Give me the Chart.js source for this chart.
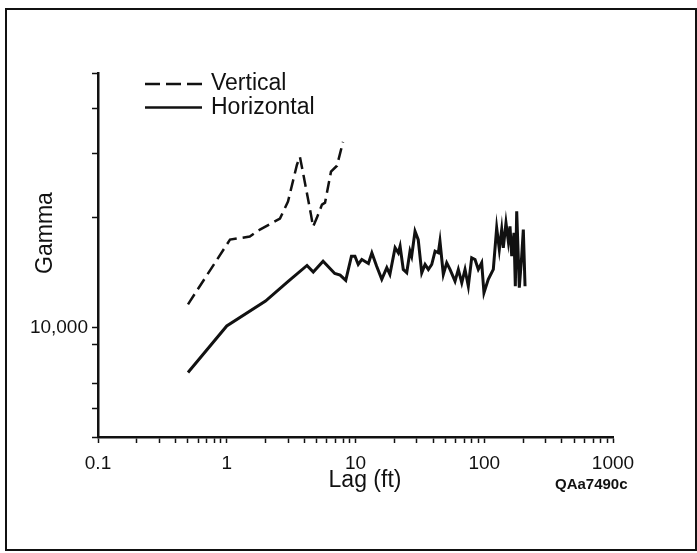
<!DOCTYPE html>
<html>
<head>
<meta charset="utf-8">
<title>Gamma vs Lag</title>
<script src="https://cdn.jsdelivr.net/npm/chart.js@4.4.1/dist/chart.umd.min.js"></script>
<style>
  html, body { margin: 0; padding: 0; background: #fff; }
  #wrap { position: relative; width: 697px; height: 553px; }
  #frame {
    position: absolute; left: 5px; top: 8px; width: 688px; height: 539px;
    border: 2px solid #111; pointer-events: none;
  }
</style>
</head>
<body>
<div id="wrap">
  <canvas id="gammaChart" width="697" height="553"></canvas>
  <div id="frame"></div>
</div>
<script>
// values (lag in ft, gamma)
const verticalLag = [0.5, 1.06, 1.51, 1.81, 2.59, 2.99, 3.51, 3.7, 3.98, 4.51, 4.68, 5.02, 5.49, 5.8, 6.45, 7.18, 8.0];
const verticalGamma = [11570, 17430, 17770, 18570, 19910, 22160, 27990, 29430, 25790, 20410, 18920, 20030, 21740, 22020, 26780, 27810, 32350];

const horizontalLag = [
  0.5, 1.0, 2.0, 3.0, 4.2, 4.7, 5.6, 6.9, 7.6, 8.4, 9.3, 9.9, 10.5, 11.2, 12.6, 13.4, 14.6, 16.0, 17.5, 18.5,
  20.3, 21.5, 22.2, 23.5, 25.0, 26.5, 27.3, 29.0, 30.7, 32.7, 34.7, 36.8, 39.1, 41.5, 44.0, 45.3, 48.1, 51.1,
  54.2, 59.3, 62.9, 66.9, 70.9, 75.2, 79.9, 84.8, 89.9, 95.5, 99.5, 107.5, 117.6, 124.9, 130.9, 136.6, 140.6,
  147.5, 153.8, 158.5, 163.4, 170.2, 174.3, 178.7, 187.2, 195.4, 201.1, 207.4
];
const horizontalGamma = [
  7520, 10090, 11810, 13380, 14800, 14190, 15200, 14070, 13920, 13460, 15690, 15690, 14890, 15370, 14990, 16030, 14730, 13550, 14590, 13980,
  16550, 16030, 16710, 14430, 14130, 16200, 15690, 18370, 17430, 14130, 14890, 14430, 14890, 16200, 16030, 17240, 13980, 15050,
  14430, 13400, 14430, 13260, 14430, 12980, 15540, 15370, 14430, 15050, 12450, 13550, 14430, 18770, 16370, 18570, 16550,
  19370, 17240, 18960, 15690, 18190, 12980, 20840, 12860, 15690, 18570, 12980
];

const seriesNames = ['Vertical', 'Horizontal'];
const xTitle = 'Lag (ft)';
const yTitle = 'Gamma';
const figureId = 'QAa7490c';

const FONT = '"Liberation Sans", Arial, Helvetica, sans-serif';
Chart.defaults.font.family = FONT;
Chart.defaults.color = '#111';

const toPoints = (xs, ys) => xs.map((x, i) => ({ x: x, y: ys[i] }));

// significand of a log tick (1..9.99)
const sig = (v) => v / Math.pow(10, Math.floor(Math.log10(v) + 1e-9));
const isDecade = (v) => Math.abs(sig(v) - 1) < 1e-6;

// legend inside the plot, axis titles and the figure id
const decorations = {
  id: 'decorations',
  afterDraw(chart) {
    const { ctx, chartArea } = chart;
    ctx.save();
    chart.data.datasets.forEach((ds, i) => {
      const y = chartArea.top + 11 + i * 23.5;
      const x0 = chartArea.left + 47;
      ctx.beginPath();
      ctx.setLineDash(i === 0 ? [15, 6] : []);
      ctx.lineWidth = 2.5;
      ctx.strokeStyle = ds.borderColor;
      ctx.moveTo(x0, y);
      ctx.lineTo(x0 + 57, y);
      ctx.stroke();
      ctx.setLineDash([]);
      ctx.fillStyle = '#111';
      ctx.font = '23px ' + FONT;
      ctx.textBaseline = 'middle';
      ctx.textAlign = 'left';
      ctx.fillText(ds.label, x0 + 66, y);
    });

    ctx.fillStyle = '#111';
    ctx.font = '23px ' + FONT;
    ctx.textAlign = 'center';
    ctx.textBaseline = 'middle';
    ctx.fillText(xTitle, chartArea.left + 267, chartArea.bottom + 44);

    ctx.save();
    ctx.translate(chartArea.left - 52, chartArea.top + 160);
    ctx.rotate(-Math.PI / 2);
    ctx.fillText(yTitle, 0, 0);
    ctx.restore();

    ctx.font = 'bold 15px ' + FONT;
    ctx.textAlign = 'left';
    ctx.fillText(figureId, chartArea.right - 58, chartArea.bottom + 48);
    ctx.restore();
  }
};

const ctx = document.getElementById('gammaChart').getContext('2d');
const chart = new Chart(ctx, {
  type: 'line',
  data: {
    datasets: [
      {
        label: seriesNames[0],
        data: toPoints(verticalLag, verticalGamma),
        borderColor: '#111',
        borderWidth: 2.5,
        borderDash: [12, 6],
        pointRadius: 0,
        tension: 0,
        fill: false
      },
      {
        label: seriesNames[1],
        data: toPoints(horizontalLag, horizontalGamma),
        borderColor: '#111',
        borderWidth: 3,
        pointRadius: 0,
        tension: 0,
        fill: false
      }
    ]
  },
  options: {
    responsive: false,
    animation: false,
    layout: { padding: { left: 0, top: 73, right: 84, bottom: 0 } },
    plugins: {
      legend: { display: false },
      tooltip: { enabled: false }
    },
    scales: {
      x: {
        type: 'logarithmic',
        min: 0.1,
        max: 1000,
        afterFit: (scale) => { scale.height = 116; },
        border: { display: true, color: '#111', width: 2.5 },
        grid: {
          drawOnChartArea: false, drawTicks: true, tickLength: 6, tickWidth: 1.5,
          tickColor: (c) => (c.tick && Math.abs(sig(c.tick.value) - 1.5) < 1e-6 ? 'rgba(0,0,0,0)' : '#111')
        },
        ticks: {
          autoSkip: false,
          maxRotation: 0,
          padding: 9,
          font: { size: 19 },
          callback: (value) => (isDecade(value) ? String(value) : '')
        },
        title: { display: false }
      },
      y: {
        type: 'logarithmic',
        min: 5000,
        max: 50000,
        afterFit: (scale) => { scale.width = 98; },
        border: { display: true, color: '#111', width: 2.5 },
        grid: {
          drawOnChartArea: false, drawTicks: true, tickLength: 6, tickWidth: 1.5,
          tickColor: (c) => (c.tick && (c.tick.value === 8000 || c.tick.value === 15000) ? 'rgba(0,0,0,0)' : '#111')
        },
        ticks: {
          autoSkip: false,
          padding: 4,
          font: { size: 19 },
          callback: (value) => (value === 10000 ? '10,000' : '')
        },
        title: { display: false }
      }
    }
  },
  plugins: [decorations]
});
</script>
</body>
</html>
